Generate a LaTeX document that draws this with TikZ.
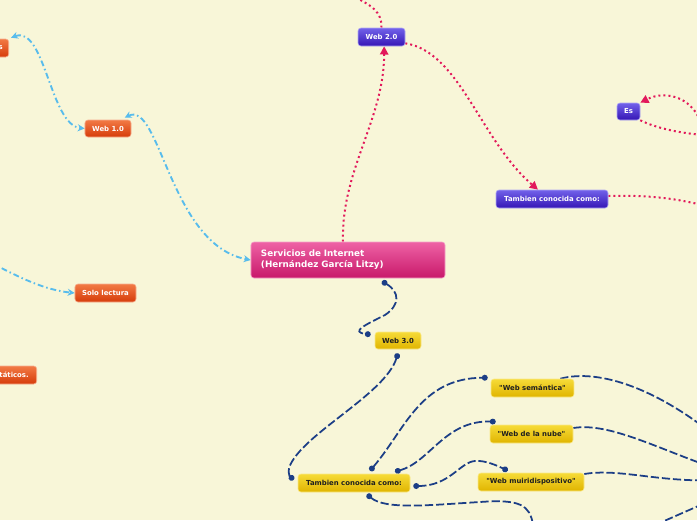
\documentclass[tikz,border=0pt]{standalone}
\usepackage{fontspec}
\newfontfamily\mapfont{DejaVu Sans}
\usetikzlibrary{arrows.meta,backgrounds}

\definecolor{bgcol}{HTML}{F8F6D8}
\definecolor{pinkline}{HTML}{E2195B}
\definecolor{skyline}{HTML}{58BCEC}
\definecolor{navyline}{HTML}{1C3E86}
\definecolor{orangetop}{HTML}{F27A45}
\definecolor{orangebot}{HTML}{D63C0A}
\definecolor{violettop}{HTML}{7262EA}
\definecolor{violetbot}{HTML}{3515B5}
\definecolor{pinktop}{HTML}{EE62A5}
\definecolor{pinkbot}{HTML}{C8186A}
\definecolor{yellowtop}{HTML}{F6DB38}
\definecolor{yellowbot}{HTML}{E0B400}

\begin{document}
\begin{tikzpicture}[x=0.03cm,y=-0.03cm,
    box/.style={rounded corners=2.5pt, inner sep=0pt, line width=0.5pt,
      minimum height=0.54cm, text=white,
      font=\mapfont\bfseries\fontsize{5.9}{7}\selectfont},
    orangebox/.style={box, draw=orangetop!60!white, top color=orangetop, bottom color=orangebot},
    violetbox/.style={box, draw=violettop!55!white, top color=violettop, bottom color=violetbot},
    yellowbox/.style={box, draw=yellowtop!60!white, top color=yellowtop, bottom color=yellowbot, text=black!88},
    pinkbox/.style={box, draw=pinktop!60!white, top color=pinktop, bottom color=pinkbot},
    pinklink/.style={draw=pinkline, line width=1.7pt, dash pattern=on 1.7pt off 2.6pt},
    skylink/.style={draw=skyline, line width=1.6pt, dash pattern=on 5pt off 2.5pt on 1.3pt off 2.5pt},
    navylink/.style={draw=navyline, line width=1.5pt, dash pattern=on 7pt off 2.5pt}]

    \useasboundingbox (0,0) rectangle (697,520);

    % nodes
    \node[pinkbox, minimum width=5.82cm, minimum height=1.08cm, text width=5.22cm, align=left,
          font=\mapfont\bfseries\fontsize{7.5}{9.4}\selectfont] (cen) at (348,260)
          {Servicios de Internet\\(Hernández García Litzy)};

    \node[violetbox, minimum width=1.41cm] (web2) at (381.5,37) {Web 2.0};
    \node[violetbox, minimum width=0.69cm, minimum height=0.51cm] (es) at (628.5,111.5) {Es};
    \node[violetbox, minimum width=3.36cm] (tcb) at (552,199) {Tambien conocida como:};

    \node[orangebox, minimum width=1.38cm, minimum height=0.51cm] (web1) at (108,128.5) {Web 1.0};
    \node[orangebox, minimum width=2.4cm, text width=2.04cm, align=right, anchor=east] (car) at (9,48) {s};
    \node[orangebox, minimum width=1.83cm] (sl) at (105.5,293) {Solo lectura};
    \node[orangebox, minimum width=2.4cm, text width=1.92cm, align=right, anchor=east] (est) at (37,375) {státicos.};

    \node[yellowbox, minimum width=1.38cm, minimum height=0.51cm] (web3) at (398,340.5) {Web 3.0};
    \node[yellowbox, minimum width=3.36cm] (tcy) at (354,483) {Tambien conocida como:};
    \node[yellowbox, minimum width=2.49cm] (ws) at (532.5,388) {"Web semántica"};
    \node[yellowbox, minimum width=2.49cm] (wn) at (531.5,434) {"Web de la nube"};
    \node[yellowbox, minimum width=3.18cm] (wm) at (531,482) {"Web muiridispositivo"};

    % ends that leave the page
    \coordinate (up2) at (350,-5);
    \coordinate (rt2) at (720,210);
    \coordinate (es1) at (705,140);
    \coordinate (es2) at (720,136);
    \coordinate (lf1) at (-10,262);
    \coordinate (rt3a) at (720,440);
    \coordinate (rt3b) at (720,470);
    \coordinate (rt3c) at (720,480);
    \coordinate (dn3) at (533,525);
    \coordinate (dn4) at (655,525);
    \coordinate (rt3d) at (712,500);

    \begin{scope}[on background layer]
    \fill[bgcol] (0,0) rectangle (697,520);

    % web 2.0
    \draw[pinklink, -{Triangle[length=7pt,width=7pt]}] ([xshift=-0.15cm]cen.north)
        .. controls (341,170) and (384,120) .. ([xshift=0.08cm]web2.south);
    \draw[pinklink] (web2.north) .. controls (382,12) and (372,5) .. (up2);
    \draw[pinklink, -{Triangle[length=7pt,width=7pt]}] ([yshift=0.09cm]web2.south east)
        .. controls (460,52) and (480,140) .. ([xshift=-0.42cm]tcb.north);
    \draw[pinklink] ([yshift=0.09cm]tcb.east) .. controls (650,195) and (680,198) .. (rt2);
    \draw[pinklink, -{Triangle[length=7pt,width=7pt]}] (es1)
        .. controls (700,95) and (665,90) .. (es.north east);
    \draw[pinklink] (es.south east) .. controls (660,130) and (690,135) .. (es2);

    % web 1.0
    \draw[skylink, {Stealth[length=6pt,width=6pt]}-{Stealth[length=6pt,width=6pt]}]
        ([xshift=0.5cm,yshift=0.06cm]web1.north) .. controls (160,100) and (170,245) .. (cen.west);
    \draw[skylink, {Stealth[length=6pt,width=6pt]}-{Stealth[length=6pt,width=6pt]}]
        ([xshift=0.06cm,yshift=0.03cm]car.north east) .. controls (45,25) and (50,125) .. (web1.west);
    \draw[skylink, -{Stealth[length=6pt,width=6pt]}] (lf1) .. controls (20,278) and (45,290) .. (sl.west);

    % web 3.0
    \draw[navylink, {Circle[length=5pt]}-{Circle[length=5pt]}] ([xshift=1.02cm,yshift=-0.09cm]cen.south)
        .. controls (400,292) and (400,305) .. (385,315)
        .. controls (365,325) and (350,332) .. ([xshift=-0.12cm,yshift=0.18cm]web3.west);
    \draw[navylink, {Circle[length=5pt]}-{Circle[length=5pt]}] ([yshift=-0.12cm]web3.south)
        .. controls (385,395) and (300,435) .. (289,468)
        .. controls (288,476) and (291,478) .. ([xshift=-0.1cm,yshift=0.18cm]tcy.west);
    \draw[navylink, {Circle[length=5pt]}-{Circle[length=5pt]}] ([xshift=0.48cm,yshift=0.09cm]tcy.north)
        .. controls (405,430) and (420,378) .. ([xshift=-0.09cm,yshift=0.03cm]ws.north west);
    \draw[navylink, {Circle[length=5pt]}-{Circle[length=5pt]}] ([xshift=1.23cm,yshift=0.06cm]tcy.north)
        .. controls (430,462) and (445,420) .. ([xshift=0.18cm,yshift=0.09cm]wn.north west);
    \draw[navylink, {Circle[length=5pt]}-{Circle[length=5pt]}] ([xshift=0.09cm,yshift=-0.09cm]tcy.east)
        .. controls (450,486) and (460,462) .. (475,461)
        .. controls (485,460) and (498,466) .. ([xshift=0.9cm,yshift=0.06cm]wm.north west);
    \draw[navylink, {Circle[length=5pt]}-] ([xshift=0.39cm,yshift=-0.06cm]tcy.south)
        .. controls (385,510) and (430,505) .. (480,502)
        .. controls (520,499) and (530,505) .. (dn3);
    \draw[navylink] ([xshift=-0.42cm]ws.north east) .. controls (600,368) and (660,390) .. (rt3a);
    \draw[navylink] ([yshift=0.18cm]wn.east) .. controls (610,422) and (660,450) .. (rt3b);
    \draw[navylink] ([yshift=0.24cm]wm.east) .. controls (620,468) and (660,483) .. (rt3c);
    \draw[navylink] (dn4) -- (rt3d);
    \end{scope}

\end{tikzpicture}
\end{document}
